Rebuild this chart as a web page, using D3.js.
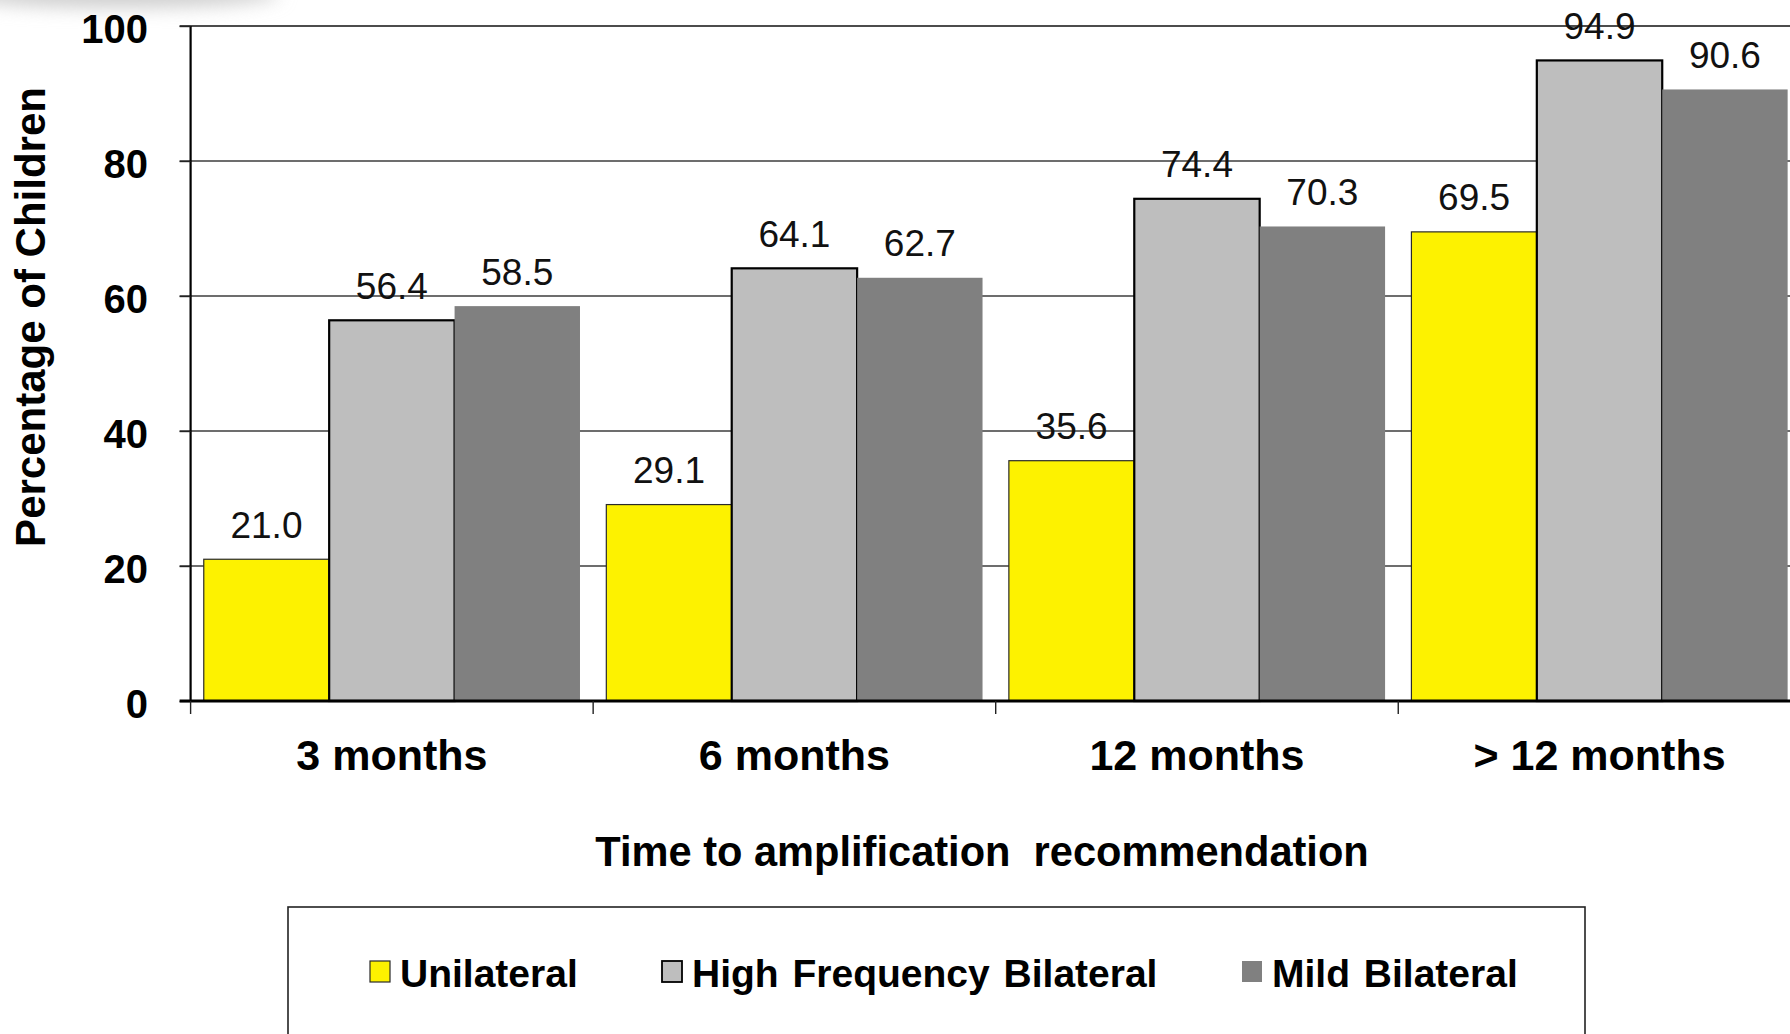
<!DOCTYPE html>
<html>
<head>
<meta charset="utf-8">
<script src="https://cdn.jsdelivr.net/npm/d3@7"></script>
<style>
  html, body { margin: 0; padding: 0; background: #fff; overflow: hidden; }
  svg { display: block; font-family: "Liberation Sans", Arial, Helvetica, sans-serif; }
</style>
</head>
<body>
<svg id="chart" width="1790" height="1034"></svg>
<script>
// ---- data ----
const categories = ["3 months", "6 months", "12 months", "> 12 months"];
const seriesNames = ["Unilateral", "High Frequency Bilateral", "Mild Bilateral"];
const unilateral = [21.0, 29.1, 35.6, 69.5];
const highFreqBilateral = [56.4, 64.1, 74.4, 94.9];
const mildBilateral = [58.5, 62.7, 70.3, 90.6];
const yTicks = [0, 20, 40, 60, 80, 100];
const yTitle = "Percentage of Children";
const xTitle = "Time to amplification\u00a0 recommendation";

const seriesValues = [unilateral, highFreqBilateral, mildBilateral];
const seriesStyle = [
  { fill: "#fdf200", stroke: "#2a2a2a", width: 1.2 },
  { fill: "#bebebe", stroke: "#000000", width: 2.2 },
  { fill: "#808080", stroke: "none",    width: 0 }
];

// ---- layout ----
const W = 1790, H = 1034;
const plot = { left: 190.6, right: 1800.8, top: 26, bottom: 701 };

const svg = d3.select("#chart");

// soft haze along the top-left edge
const defs = svg.append("defs");
defs.append("filter").attr("id", "haze")
  .attr("x", "-50%").attr("y", "-200%").attr("width", "200%").attr("height", "500%")
  .append("feGaussianBlur").attr("stdDeviation", 9);
svg.append("ellipse")
  .attr("cx", 120).attr("cy", -6).attr("rx", 160).attr("ry", 14)
  .attr("fill", "#cfcfcf").attr("filter", "url(#haze)");

const y = d3.scaleLinear().domain([0, 100]).range([plot.bottom, plot.top]);
const x0 = d3.scaleBand().domain(categories).range([plot.left, plot.right])
  .paddingInner(0).paddingOuter(0);
const x1 = d3.scaleBand().domain(seriesNames).range([0, x0.bandwidth()])
  .paddingInner(0).paddingOuter(0.105);

// gridlines
svg.append("g").selectAll("line")
  .data(yTicks.filter(t => t > 0))
  .join("line")
  .attr("x1", plot.left - 11).attr("x2", W)
  .attr("y1", d => y(d)).attr("y2", d => y(d))
  .attr("stroke", d => d === 100 ? "#111" : "#3c3c3c")
  .attr("stroke-width", 1.4);

// bars
const groups = svg.append("g").selectAll("g")
  .data(categories)
  .join("g")
  .attr("transform", c => `translate(${x0(c)},0)`);

groups.selectAll("rect")
  .data((c, ci) => seriesNames.map((s, si) => ({ s, si, v: seriesValues[si][ci] })))
  .join("rect")
  .attr("x", d => x1(d.s))
  .attr("y", d => y(d.v))
  .attr("width", x1.bandwidth())
  .attr("height", d => y(0) - y(d.v))
  .attr("fill", d => seriesStyle[d.si].fill)
  .attr("stroke", d => seriesStyle[d.si].stroke)
  .attr("stroke-width", d => seriesStyle[d.si].width);

// value labels
groups.selectAll("text")
  .data((c, ci) => seriesNames.map((s, si) => ({ s, si, v: seriesValues[si][ci] })))
  .join("text")
  .attr("x", d => x1(d.s) + x1.bandwidth() / 2)
  .attr("y", d => y(d.v) - 21.5)
  .attr("text-anchor", "middle")
  .attr("font-size", 37)
  .attr("fill", "#111")
  .text(d => d.v.toFixed(1));

// y axis
const yAxis = svg.append("g")
  .attr("transform", `translate(${plot.left},0)`)
  .call(d3.axisLeft(y).tickValues(yTicks).tickSize(11).tickPadding(31.5).tickFormat(d3.format("d")));
yAxis.select(".domain").attr("stroke", "#000").attr("stroke-width", 2.2)
  .attr("d", `M0,${plot.top}V${plot.bottom}`);
yAxis.selectAll(".tick line").attr("stroke", "#222").attr("stroke-width", 1.4);
yAxis.selectAll(".tick text")
  .attr("font-size", 40).attr("font-weight", "bold").attr("fill", "#000")
  .attr("font-family", "'Liberation Sans', Arial, sans-serif")
  .attr("dy", 16);

// x axis
const xAxis = svg.append("g")
  .attr("transform", `translate(0,${plot.bottom})`)
  .call(d3.axisBottom(x0).tickSize(0).tickPadding(0));
xAxis.select(".domain").remove();
xAxis.selectAll(".tick text")
  .attr("font-size", 43).attr("font-weight", "bold").attr("fill", "#000")
  .attr("font-family", "'Liberation Sans', Arial, sans-serif")
  .attr("y", 68.5).attr("dy", 0);
svg.append("line")
  .attr("x1", plot.left - 11).attr("x2", W)
  .attr("y1", plot.bottom).attr("y2", plot.bottom)
  .attr("stroke", "#000").attr("stroke-width", 2.8);
svg.append("g").selectAll("line")
  .data(categories)
  .join("line")
  .attr("x1", c => x0(c)).attr("x2", c => x0(c))
  .attr("y1", plot.bottom).attr("y2", plot.bottom + 13)
  .attr("stroke", "#222").attr("stroke-width", 1.4);

// axis titles
svg.append("text")
  .attr("transform", `translate(45,317) rotate(-90)`)
  .attr("text-anchor", "middle")
  .attr("font-size", 42).attr("font-weight", "bold").attr("fill", "#000")
  .text(yTitle);

svg.append("text")
  .attr("x", 982).attr("y", 866)
  .attr("text-anchor", "middle")
  .attr("font-size", 41.6).attr("font-weight", "bold").attr("fill", "#000")
  .text(xTitle);

// legend
svg.append("rect")
  .attr("x", 288).attr("y", 907).attr("width", 1297).attr("height", 200)
  .attr("fill", "#fff").attr("stroke", "#222").attr("stroke-width", 1.6);

const legendX = [370, 662, 1242];
const legend = svg.append("g").selectAll("g")
  .data(seriesNames)
  .join("g")
  .attr("transform", (d, i) => `translate(${legendX[i]},961)`);
legend.append("rect")
  .attr("width", 20).attr("height", 21)
  .attr("fill", (d, i) => seriesStyle[i].fill)
  .attr("stroke", (d, i) => seriesStyle[i].stroke)
  .attr("stroke-width", (d, i) => Math.min(seriesStyle[i].width, 1.8));
legend.append("text")
  .attr("x", 30).attr("y", 26)
  .attr("font-size", 39).attr("font-weight", "bold").attr("fill", "#000")
  .attr("word-spacing", 3)
  .text(d => d);
</script>
</body>
</html>
